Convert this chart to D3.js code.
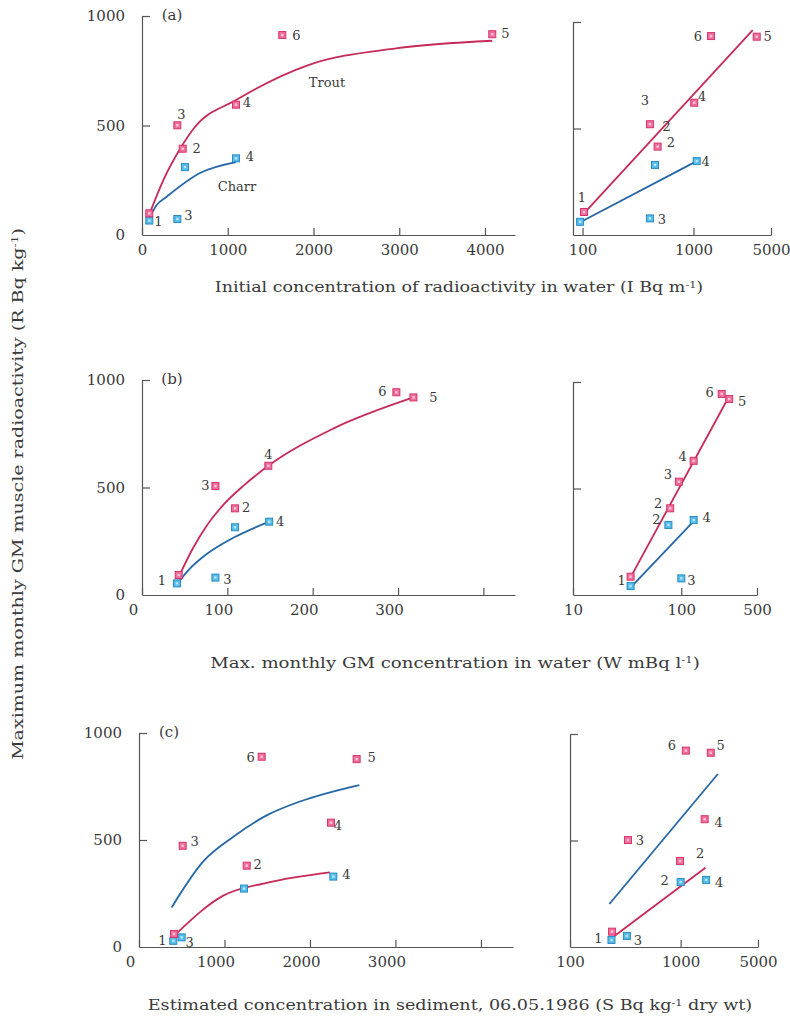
<!DOCTYPE html>
<html>
<head>
<meta charset="utf-8">
<script src="https://cdn.jsdelivr.net/npm/d3@7"></script>
<style>
  body { margin: 0; background: #fff; }
  svg { font-family: "DejaVu Serif", serif; }
  .axis path, .axis line { stroke: #555; stroke-width: 1.2px; }
  .axis text { fill: #3a3a3a; font-size: 15px; font-family: "DejaVu Serif", serif; }
  .site { fill: #3a3a3a; font-size: 13px; }
  .title { fill: #3a3a3a; font-size: 14px; }
</style>
</head>
<body>
<div id="chart"></div>
<script>
// Points are [site, x, y]; y is muscle radioactivity (Bq/kg)
// (a) initial concentration in water
const troutALin = [[1, 85, 99], [3, 412, 501], [2, 475, 394], [4, 1096, 595], [6, 1636, 913], [5, 4085, 917]];
const charrALin = [[1, 85, 66], [3, 412, 73], [2, 501, 310], [4, 1096, 350]];
const troutALog = [[1, 103, 108], [3, 405, 520], [2, 475, 415], [4, 1016, 621], [6, 1439, 934], [5, 3715, 931]];
const charrALog = [[1, 95, 62], [3, 405, 78], [2, 450, 329], [4, 1069, 347]];
const fitTroutALin = [[90, 99], [249, 251], [443, 393], [610, 490], [1096, 616], [1940, 776], [2962, 852], [4085, 887]];
const fitCharrALin = [[85, 77], [171, 137], [288, 175], [676, 283], [1096, 333]];
const fitTroutALog = [[103, 102], [3420, 962]];
const fitCharrALog = [[97, 62], [1069, 347]];

// (b) max. monthly GM concentration in water
const troutBLin = [[1, 43, 93], [3, 86, 507], [2, 109, 403], [4, 148, 601], [6, 298, 943], [5, 318, 919]];
const charrBLin = [[1, 41, 54], [3, 86, 81], [2, 109, 315], [4, 149, 341]];
const troutBLog = [[1, 34, 86], [2, 79, 407], [3, 95, 532], [4, 130, 630], [6, 236, 944], [5, 277, 920]];
const charrBLog = [[1, 34, 42], [2, 76, 329], [3, 100, 78], [4, 130, 352]];
const fitTroutBLin = [[45, 101], [60, 220], [75, 318], [95, 418], [120, 512], [148, 601], [224, 774], [318, 919]];
const fitCharrBLin = [[41, 51], [55, 118], [75, 188], [107, 266], [149, 341]];
const fitTroutBLog = [[34, 83], [267, 919]];
const fitCharrBLog = [[35, 42], [133, 352]];

// (c) estimated concentration in sediment
const troutCLin = [[1, 409, 61], [3, 511, 473], [2, 1260, 380], [6, 1435, 889], [4, 2246, 581], [5, 2546, 878]];
const charrCLin = [[1, 401, 29], [3, 499, 45], [2, 1228, 273], [4, 2273, 329]];
const troutCLog = [[1, 240, 72], [3, 334, 502], [2, 988, 404], [6, 1114, 922], [4, 1648, 600], [5, 1871, 912]];
const charrCLog = [[1, 237, 33], [3, 327, 52], [2, 1000, 305], [4, 1698, 315]];
const fitTroutCLin = [[382, 185], [752, 400], [1103, 515], [1493, 615], [1883, 680], [2577, 757]];
const fitCharrCLin = [[441, 64], [986, 240], [1494, 300], [2234, 349]];
const fitTroutCLog = [[227, 202], [2168, 812]];
const fitCharrCLog = [[252, 52], [1675, 372]];

// tick values
const yTicks = [0, 500, 1000];
const xTicksA = [0, 1000, 2000, 3000, 4000];
const xTicksB = [0, 100, 200, 300, 400];
const xTicksC = [0, 1000, 2000, 3000, 4000];
const xLabelsA = ["0", "1000", "2000", "3000", "4000"];
const xLabelsB = ["0", "100", "200", "300", ""];
const xLabelsC = ["0", "1000", "2000", "3000", ""];
const logTicksA = [100, 1000, 5000];
const logTicksB = [10, 100, 500];
const logTicksC = [100, 1000, 5000];

// site label placement: [species, site, dx, dy]
const labelsALin = [["c", 1, 9, 1], ["t", 3, 4, -11], ["t", 2, 14, 0], ["t", 4, 11, -2], ["t", 6, 14, 0], ["t", 5, 13, -1], ["c", 3, 11, -4], ["c", 4, 14, -2]];
const labelsALog = [["t", 1, -2, -14], ["t", 3, -5, -24], ["t", 2, 9, -20], ["c", 2, 16, -22], ["t", 4, 8, -6], ["t", 6, -13, 0], ["t", 5, 11, 0], ["c", 3, 12, 1], ["c", 4, 9, 0]];
const labelsBLin = [["c", 1, -15, -3], ["t", 3, -10, 0], ["t", 2, 11, -1], ["t", 4, 0, -11], ["t", 6, -14, -1], ["t", 5, 20, 0], ["c", 3, 12, 2], ["c", 4, 11, 0]];
const labelsBLog = [["t", 6, -12, -1], ["t", 5, 13, 2], ["t", 4, -11, -4], ["t", 3, -11, -7], ["t", 2, -12, -5], ["c", 2, -12, -5], ["c", 4, 13, -3], ["c", 3, 10, 2], ["c", 1, -9, -6]];
const labelsCLin = [["t", 3, 12, -4], ["t", 6, -11, 1], ["t", 5, 15, -2], ["t", 4, 7, 3], ["t", 2, 11, -1], ["c", 4, 13, -2], ["c", 3, 8, 5], ["c", 1, -11, 0]];
const labelsCLog = [["t", 6, -14, -5], ["t", 5, 10, -7], ["t", 4, 14, 3], ["t", 3, 12, 0], ["t", 2, 20, -7], ["c", 2, -16, -2], ["c", 4, 13, 3], ["c", 1, -13, -1], ["c", 3, 11, 5]];

const troutFill = "#ef6f9c", troutEdge = "#d6356c", troutLine = "#c62a58";
const charrFill = "#55bde8", charrEdge = "#2a8cc4", charrLine = "#2566a6";

const svg = d3.select("#chart").append("svg")
    .attr("width", 790)
    .attr("height", 1026);

const panels = [
  { tag: "(a)", x: d3.scaleLinear().domain([0, 4350]).range([142, 515]), y: d3.scaleLinear().domain([0, 1000]).range([235, 16]),
    ticks: xTicksA, tickLabels: xLabelsA, shift: 0, trout: troutALin, charr: charrALin, labels: labelsALin,
    fits: [[fitTroutALin, troutLine], [fitCharrALin, charrLine]] },
  { x: d3.scaleLog().domain([82, 5000]).range([573, 771]), y: d3.scaleLinear().domain([0, 1000]).range([235, 22]),
    ticks: logTicksA, shift: 0, trout: troutALog, charr: charrALog, labels: labelsALog,
    fits: [[fitTroutALog, troutLine], [fitCharrALog, charrLine]] },
  { tag: "(b)", x: d3.scaleLinear().domain([0, 437]).range([142, 515]), y: d3.scaleLinear().domain([0, 1000]).range([595, 380]),
    ticks: xTicksB, tickLabels: xLabelsB, shift: -9, trout: troutBLin, charr: charrBLin, labels: labelsBLin,
    fits: [[fitTroutBLin, troutLine], [fitCharrBLin, charrLine]] },
  { x: d3.scaleLog().domain([10, 500]).range([573, 757]), y: d3.scaleLinear().domain([0, 1000]).range([595, 382]),
    ticks: logTicksB, shift: 0, trout: troutBLog, charr: charrBLog, labels: labelsBLog,
    fits: [[fitTroutBLog, troutLine], [fitCharrBLog, charrLine]] },
  // in (c) the upper fit is printed blue and the lower one red
  { tag: "(c)", x: d3.scaleLinear().domain([0, 4375]).range([139, 513]), y: d3.scaleLinear().domain([0, 1000]).range([947, 733]),
    ticks: xTicksC, tickLabels: xLabelsC, shift: -9, trout: troutCLin, charr: charrCLin, labels: labelsCLin,
    fits: [[fitTroutCLin, charrLine], [fitCharrCLin, troutLine]] },
  { x: d3.scaleLog().domain([100, 5000]).range([570, 758]), y: d3.scaleLinear().domain([0, 1000]).range([947, 734]),
    ticks: logTicksC, shift: 0, trout: troutCLog, charr: charrCLog, labels: labelsCLog,
    fits: [[fitTroutCLog, charrLine], [fitCharrCLog, troutLine]] }
];

panels.forEach(function (p) {
  let g = svg.append("g");
  let x0 = p.x.range()[0], y0 = p.y.range()[0];
  let linear = !!p.tickLabels;

  // x axis, ticks point up into the plot
  let xAxis = d3.axisBottom(p.x)
      .tickValues(p.ticks)
      .tickSizeInner(-7)
      .tickSizeOuter(0)
      .tickPadding(9)
      .tickFormat(function (d, i) { return linear ? p.tickLabels[i] : d; });
  g.append("g")
      .attr("class", "axis")
      .attr("transform", "translate(0," + y0 + ")")
      .call(xAxis)
      .call(function (a) { a.selectAll("text").attr("dx", p.shift); });

  // y axis, ticks point right; numbers only on the linear panels
  let yAxis = d3.axisLeft(p.y)
      .tickValues(yTicks)
      .tickSizeInner(-8)
      .tickSizeOuter(0)
      .tickPadding(17)
      .tickFormat(linear ? d3.format("d") : "");
  g.append("g")
      .attr("class", "axis")
      .attr("transform", "translate(" + x0 + ",0)")
      .call(yAxis)
      .call(function (a) { a.selectAll(".tick").filter(function (d) { return d === 0; }).select("line").remove(); });

  if (p.tag) {
    g.append("text")
        .attr("x", x0 + 30)
        .attr("y", p.y(1000) + 4)
        .attr("text-anchor", "middle")
        .attr("font-size", 15)
        .attr("fill", "#3a3a3a")
        .text(p.tag);
  }

  // fitted curves
  let line = d3.line()
      .x(function (d) { return p.x(d[0]); })
      .y(function (d) { return p.y(d[1]); })
      .curve(d3.curveMonotoneX);
  p.fits.forEach(function (f) {
    g.append("path")
        .datum(f[0])
        .attr("fill", "none")
        .attr("stroke", f[1])
        .attr("stroke-width", 1.8)
        .attr("d", line);
  });

  // points
  [[p.charr, charrFill, charrEdge], [p.trout, troutFill, troutEdge]].forEach(function (s) {
    let pts = g.append("g").selectAll("g")
        .data(s[0])
        .enter().append("g")
        .attr("transform", function (d) { return "translate(" + p.x(d[1]) + "," + p.y(d[2]) + ")"; });
    pts.append("rect")
        .attr("x", -3.5).attr("y", -3.5)
        .attr("width", 7).attr("height", 7)
        .attr("fill", s[1])
        .attr("stroke", s[2])
        .attr("stroke-width", 1);
    pts.append("rect")
        .attr("x", -1.2).attr("y", -1.2)
        .attr("width", 2.4).attr("height", 2.4)
        .attr("fill", "#fff")
        .attr("opacity", 0.6);
  });

  // site numbers
  function site(d) {
    return (d[0] === "t" ? p.trout : p.charr).find(function (q) { return q[0] === d[1]; });
  }
  g.selectAll(".site")
      .data(p.labels)
      .enter().append("text")
      .attr("class", "site")
      .attr("text-anchor", "middle")
      .attr("dominant-baseline", "central")
      .attr("x", function (d) { return p.x(site(d)[1]) + d[2]; })
      .attr("y", function (d) { return p.y(site(d)[2]) + d[3]; })
      .text(function (d) { return d[1]; });
});

// species names in (a)
svg.append("text").attr("class", "site").attr("font-size", 12)
    .attr("x", 327).attr("y", 87).attr("text-anchor", "middle").text("Trout");
svg.append("text").attr("class", "site").attr("font-size", 12)
    .attr("x", 237).attr("y", 191).attr("text-anchor", "middle").text("Charr");

// axis titles, stretched sideways to the printed width
function title(x, y, width, parts, rotate) {
  let g = svg.append("g")
      .attr("transform", "translate(" + x + "," + y + ")" + (rotate ? " rotate(-90)" : ""));
  let t = g.append("text")
      .attr("class", "title")
      .attr("text-anchor", "middle");
  parts.forEach(function (s, i) {
    t.append("tspan")
        .attr("baseline-shift", i % 2 ? "super" : null)
        .attr("font-size", i % 2 ? 9 : null)
        .text(s);
  });
  let w = t.node().getComputedTextLength();
  t.attr("transform", "scale(" + (width / w) + ",1)");
}
title(459, 292, 489, ["Initial concentration of radioactivity in water (I Bq m", "-1", ")"]);
title(455, 668, 490, ["Max. monthly GM concentration in water (W mBq l", "-1", ")"]);
title(450, 1010, 605, ["Estimated concentration in sediment, 06.05.1986 (S Bq kg", "-1", " dry wt)"]);
title(23, 494, 532, ["Maximum monthly GM muscle radioactivity (R Bq kg", "-1", ")"], true);
</script>
</body>
</html>
